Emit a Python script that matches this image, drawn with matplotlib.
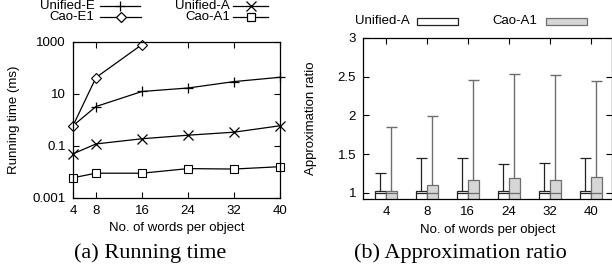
import matplotlib.pyplot as plt
from matplotlib.lines import Line2D
from matplotlib.patches import Rectangle
import numpy as np

# dados
palavras = [4, 8, 16, 24, 32, 40]
unified_e = [0.6, 3.3, 12.5, 17, 30, 44]
cao_e1 = [0.6, 43, 800]
unified_a = [0.05, 0.12, 0.19, 0.26, 0.34, 0.6]
cao_a1 = [0.006, 0.009, 0.009, 0.0135, 0.013, 0.016]

razao_unified = [1.02, 1.02, 1.02, 1.02, 1.02, 1.02]
razao_cao = [1.02, 1.095, 1.17, 1.19, 1.17, 1.21]
max_unified = [1.26, 1.445, 1.445, 1.37, 1.385, 1.445]
max_cao = [1.85, 1.99, 2.46, 2.53, 2.52, 2.44]

plt.rcParams['font.family'] = ['Liberation Sans', 'DejaVu Sans']
plt.rcParams['font.size'] = 9.5

fig = plt.figure(figsize=(6.12, 2.75), dpi=100)
W, H = 612, 275

def caixa(l, t, r, b):
    return [l / W, 1 - b / H, (r - l) / W, (b - t) / H]

# legenda desenhada a mao (posicoes em pixels da figura)
def item_linha(texto, xt, x0, x1, y, marker, ms):
    fig.text(xt / W, 1 - y / H, texto, ha='right', va='center', fontsize=9.5)
    fig.add_artist(Line2D([x0 / W, x1 / W], [1 - y / H, 1 - y / H], color='black', lw=0.9,
                          transform=fig.transFigure))
    fig.add_artist(Line2D([(x0 + x1) / 2 / W], [1 - y / H], marker=marker, ms=ms, mew=0.9,
                          color='black', mfc='white', transform=fig.transFigure))

def item_caixa(texto, xt, x0, x1, y, cor, borda):
    fig.text(xt / W, 1 - y / H, texto, ha='right', va='center', fontsize=9.5)
    fig.add_artist(Rectangle((x0 / W, 1 - (y + 3.5) / H), (x1 - x0) / W, 7 / H,
                             facecolor=cor, edgecolor=borda, lw=0.9,
                             transform=fig.transFigure))

# (a) tempo de execucao
ax1 = fig.add_axes(caixa(73, 42, 280, 198))
ax1.set_yscale('log')
k = dict(color='black', lw=0.9, mfc='white', clip_on=False)
ax1.plot(palavras, unified_e, marker='+', ms=7.5, mew=0.9, **k)
ax1.plot(palavras[:len(cao_e1)], cao_e1, marker='D', ms=5.5, mew=0.8, **k)
ax1.plot(palavras, unified_a, marker='x', ms=7, mew=0.9, **k)
ax1.plot(palavras, cao_a1, marker='s', ms=6, mew=0.8, **k)
ax1.set_xlim(4, 40)
ax1.set_ylim(0.001, 1000)
ax1.set_xticks(palavras)
ax1.set_yticks([0.001, 0.1, 10, 1000])
ax1.set_yticklabels(['0.001', '0.1', '10', '1000'])
ax1.minorticks_off()
ax1.tick_params(direction='in', top=True, right=True, length=4, width=0.8, pad=5,
                labelsize=9.5)
ax1.set_xlabel('No. of words per object', labelpad=4)
ax1.set_ylabel('Running time (ms)', labelpad=9)
item_linha('Unified-E', 95, 100, 140, 6, '+', 7.5)
item_linha('Cao-E1', 94, 100, 141, 17, 'D', 5.5)
item_linha('Unified-A', 230, 233, 268, 6, 'x', 7)
item_linha('Cao-A1', 230, 233, 268, 17, 's', 6)
fig.text(150 / W, 1 - 253 / H, '(a) Running time', ha='center', va='center',
         family='Liberation Serif', fontsize=16)

# (b) razao de aproximacao
ax2 = fig.add_axes(caixa(363, 38, 612, 199))
x = np.arange(len(palavras))
w = 0.27
ax2.bar(x - w / 2, razao_unified, w, color='white', edgecolor='#222222', lw=0.9)
ax2.bar(x + w / 2, razao_cao, w, color='#d6d6d6', edgecolor='#6e6e6e', lw=0.9)
um = np.ones(len(x))
ax2.hlines(um, x - w, x, color='#222222', lw=0.9)
ax2.hlines(um, x, x + w, color='#6e6e6e', lw=0.9)
ax2.vlines(x - w / 2, razao_unified, max_unified, color='#222222', lw=0.9)
ax2.hlines(max_unified, x - w, x, color='#222222', lw=0.9)
ax2.vlines(x + w / 2, razao_cao, max_cao, color='#6e6e6e', lw=1.0)
ax2.hlines(max_cao, x, x + w, color='#6e6e6e', lw=1.0)
ax2.set_xlim(-0.56, 5.52)
ax2.set_ylim(0.92, 3)
ax2.set_xticks(x)
ax2.set_xticklabels([str(p) for p in palavras])
ax2.set_yticks([1, 1.5, 2, 2.5, 3])
ax2.set_yticklabels(['1', '1.5', '2', '2.5', '3'])
ax2.tick_params(direction='in', top=True, right=True, length=4, width=0.8, pad=5,
                labelsize=9.5)
ax2.tick_params(axis='x', bottom=False)
ax2.set_xlabel('No. of words per object', labelpad=4)
ax2.set_ylabel('Approximation ratio', labelpad=15)
item_caixa('Unified-A', 410, 417, 458, 21.5, 'white', '#222222')
item_caixa('Cao-A1', 537, 546, 587, 21.5, '#d6d6d6', '#6e6e6e')
fig.text(460 / W, 1 - 253 / H, '(b) Approximation ratio', ha='center', va='center',
         family='Liberation Serif', fontsize=16)

for a in (ax1, ax2):
    for s in a.spines.values():
        s.set_linewidth(0.9)

fig.savefig('out.png', dpi=100)
